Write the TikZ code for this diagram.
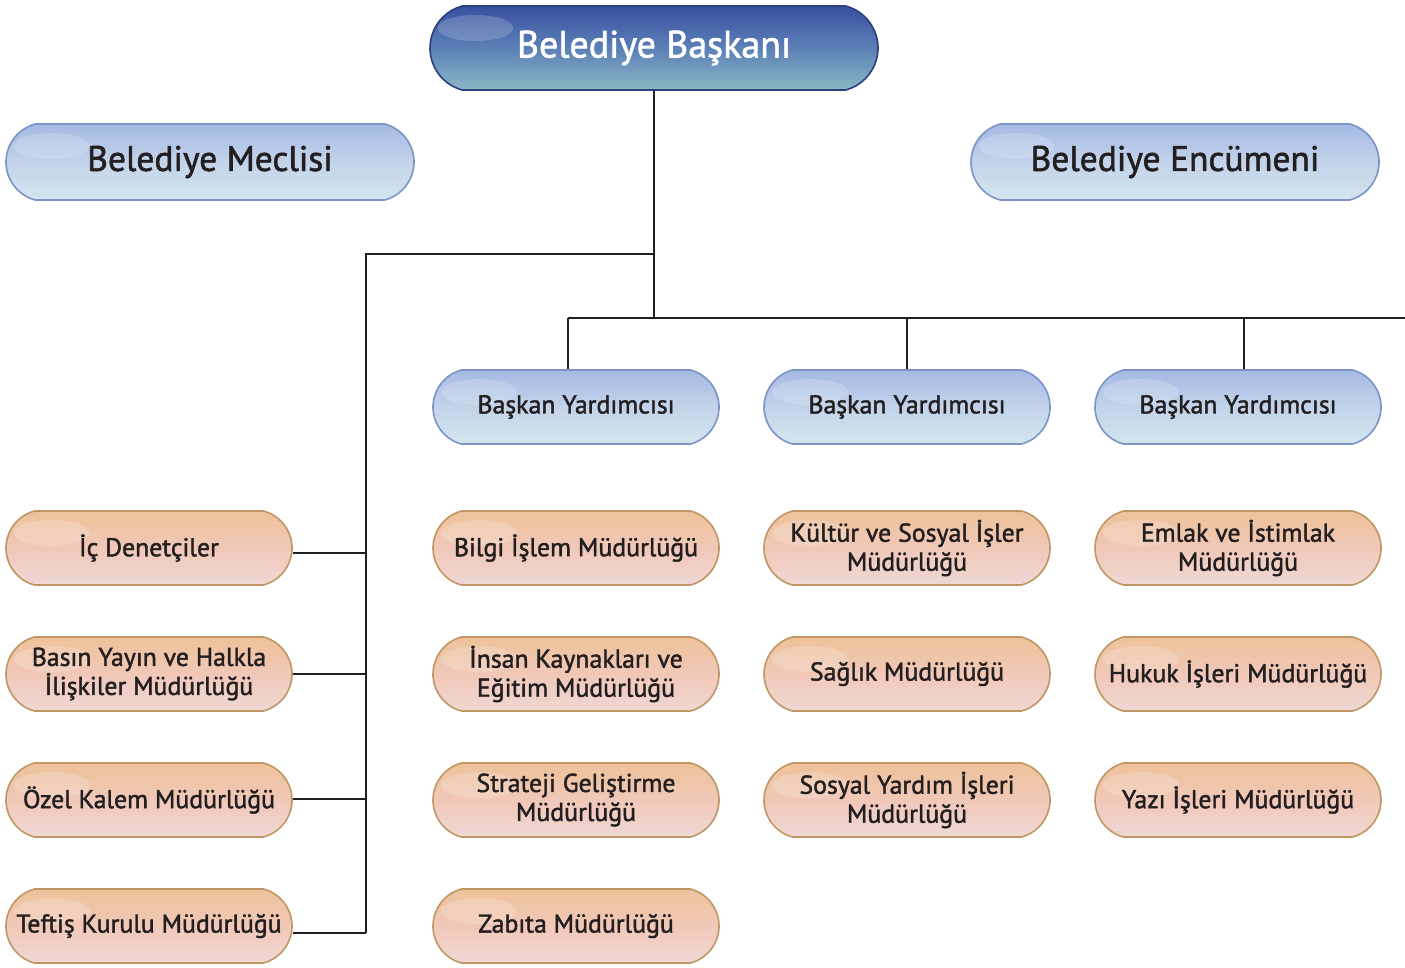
\documentclass[tikz,border=0pt]{standalone}
\usepackage{fontspec}
\setmainfont{PT Sans}[FakeBold=1.6]
\usepackage{tikz}
\usetikzlibrary{calc,positioning,shapes.misc}

\definecolor{txt}{HTML}{231F20}
\definecolor{bluetop}{HTML}{A5BAE4}
\definecolor{bluemid}{HTML}{C3D3EA}
\definecolor{bluebot}{HTML}{D3E6EE}
\definecolor{blueedge}{HTML}{7C93C8}
\definecolor{darktop}{HTML}{3A50A2}
\definecolor{darkmid}{HTML}{5B80B6}
\definecolor{darkbot}{HTML}{8CB8C6}
\definecolor{darkedge}{HTML}{2C3F7E}
\definecolor{peachtop}{HTML}{EDC29A}
\definecolor{peachmid}{HTML}{F1C8B8}
\definecolor{peachbot}{HTML}{EFD8D4}
\definecolor{peachedge}{HTML}{C09665}

\begin{document}
\begin{tikzpicture}[x=1pt,y=-1pt]
\tikzstyle{box}=[rounded rectangle, rounded rectangle arc length=150, line width=1.6pt,
                 minimum width=286pt, minimum height=74pt, inner sep=0pt, align=center,
                 text=txt, font=\fontsize{25.8}{29}\selectfont,
                 path picture={\fill[white,opacity=.18] ([xshift=50pt,yshift=-22pt]path picture bounding box.north west) ellipse (38pt and 13pt);}]
\tikzstyle{vp}=[box, draw=blueedge, top color=bluetop, bottom color=bluebot, middle color=bluemid]
\tikzstyle{dir}=[box, draw=peachedge, top color=peachtop, bottom color=peachbot, middle color=peachmid]
\tikzstyle{big}=[vp, minimum width=408pt, minimum height=76pt, font=\fontsize{35.5}{40}\selectfont]
\tikzstyle{lnk}=[line width=2.8pt, draw=txt]
\useasboundingbox (0,0) rectangle (1405,967);
% top level
\node[big, draw=darkedge, top color=darktop, bottom color=darkbot, middle color=darkmid,
      text=white, minimum width=448pt, minimum height=84pt,
      font=\fontsize{38}{40}\selectfont] (BB) at (654,48) {Belediye Başkanı};
\node[big] (BM) at (210,162) {Belediye Meclisi};
\node[big] (BE) at (1175,162) {Belediye Encümeni};
% deputies
\node[vp] (V1) at (576,407) {Başkan Yardımcısı};
\node[vp] (V2) at (907,407) {Başkan Yardımcısı};
\node[vp] (V3) at (1238,407) {Başkan Yardımcısı};
% left column
\node[dir] (L1) at (149,548) {İç Denetçiler};
\node[dir] (L2) at (149,674) {Basın Yayın ve Halkla\\İlişkiler Müdürlüğü};
\node[dir] (L3) at (149,800) {Özel Kalem Müdürlüğü};
\node[dir] (L4) at (149,926) {Teftiş Kurulu Müdürlüğü};
% directorates
\node[dir] (A1) at (576,548) {Bilgi İşlem Müdürlüğü};
\node[dir] (A2) at (576,674) {İnsan Kaynakları ve\\Eğitim Müdürlüğü};
\node[dir] (A3) at (576,800) {Strateji Geliştirme\\Müdürlüğü};
\node[dir] (A4) at (576,926) {Zabıta Müdürlüğü};
\node[dir] (B1) at (907,548) {Kültür ve Sosyal İşler\\Müdürlüğü};
\node[dir] (B2) at (907,674) {Sağlık Müdürlüğü};
\node[dir] (B3) at (907,800) {Sosyal Yardım İşleri\\Müdürlüğü};
\node[dir] (C1) at (1238,548) {Emlak ve İstimlak\\Müdürlüğü};
\node[dir] (C2) at (1238,674) {Hukuk İşleri Müdürlüğü};
\node[dir] (C3) at (1238,800) {Yazı İşleri Müdürlüğü};
% connectors
\coordinate (hL) at (366,254);
\coordinate (hR) at (1405,318);
\draw[lnk] (BB.south) -- (BB.south |- hR);
\draw[lnk] (BB.south |- hL) -- (hL) -- ([yshift=-7pt]hL |- L4.east);
\draw[lnk] ([xshift=-8pt]V1.north |- hR) -- (hR);
\foreach \i/\s in {V1/-8,V2/0,V3/6}{\draw[lnk] ([xshift=\s pt]\i.north |- hR) -- ([xshift=\s pt]\i.north);}
\foreach \i/\s in {L1/-5,L2/0,L3/1,L4/-7}{\draw[lnk] ([yshift=\s pt]\i.east) -- ([yshift=\s pt]\i.east -| hL);}
\end{tikzpicture}
\end{document}
